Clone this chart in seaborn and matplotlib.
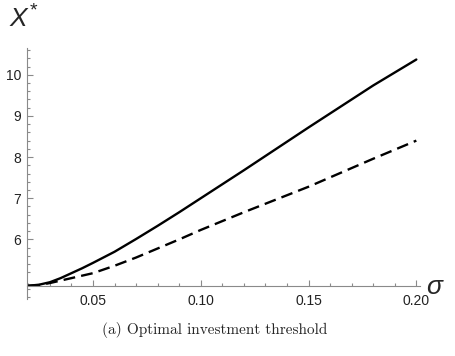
import numpy as np
import pandas as pd
import matplotlib
matplotlib.use("Agg")
import matplotlib.pyplot as plt
import seaborn as sns
from matplotlib.ticker import FixedLocator, FormatStrFormatter

# volatility grid and optimal investment thresholds
sigma = [0.02, 0.025, 0.03, 0.035, 0.04, 0.045, 0.05, 0.06, 0.07, 0.08, 0.09,
         0.10, 0.12, 0.15, 0.18, 0.20]
threshold_solid = [4.874, 4.90, 4.96, 5.06, 5.18, 5.30, 5.43, 5.70, 6.01, 6.33, 6.66,
                   7.00, 7.68, 8.72, 9.74, 10.37]
threshold_dashed = [4.874, 4.89, 4.94, 5.00, 5.06, 5.12, 5.18, 5.36, 5.56, 5.78, 6.00,
                    6.23, 6.66, 7.28, 7.96, 8.40]

x_major = [0.05, 0.10, 0.15, 0.20]
y_major = [6, 7, 8, 9, 10]

sns.set_style("white")
plt.rcParams["mathtext.fontset"] = "custom"
plt.rcParams["mathtext.it"] = "Liberation Sans:italic"
plt.rcParams["mathtext.rm"] = "Liberation Sans"

fig = plt.figure(figsize=(4.56, 3.56), dpi=100)
ax = fig.add_axes([27 / 456, 1 - 298.7 / 356, 393 / 456, (298.7 - 48) / 356])

df_solid = pd.DataFrame({"sigma": sigma, "X": threshold_solid})
df_dashed = pd.DataFrame({"sigma": sigma, "X": threshold_dashed})
sns.lineplot(data=df_solid, x="sigma", y="X", ax=ax, color="black", lw=1.7)
sns.lineplot(data=df_dashed, x="sigma", y="X", ax=ax, color="black", lw=1.7,
             linestyle=(0, (5, 2.6)))

ax.set_xlim(0.0194, 0.2017)
ax.set_ylim(4.56, 10.65)
ax.set_xlabel("")
ax.set_ylabel("")

axis_color = "#8a8a8a"
for side in ("top", "right"):
    ax.spines[side].set_visible(False)
ax.spines["bottom"].set_position(("data", 4.874))
for side in ("left", "bottom"):
    ax.spines[side].set_color(axis_color)
    ax.spines[side].set_linewidth(0.8)

ax.xaxis.set_major_locator(FixedLocator(x_major))
ax.xaxis.set_minor_locator(FixedLocator([v / 100 for v in range(2, 21) if v % 5 != 0]))
ax.xaxis.set_major_formatter(FormatStrFormatter("%.2f"))
ax.yaxis.set_major_locator(FixedLocator(y_major))
ax.yaxis.set_minor_locator(FixedLocator([v / 10 for v in range(46, 107, 2) if v % 10 != 0]))
ax.yaxis.set_major_formatter(FormatStrFormatter("%d"))

ax.tick_params(which="both", direction="in", color=axis_color, width=0.8,
               bottom=True, left=True, top=False, right=False,
               labelsize=10, labelcolor="#222222")
ax.tick_params(which="major", length=4.5)
ax.tick_params(which="minor", length=2.5)
ax.tick_params(axis="x", which="major", pad=6)
ax.tick_params(axis="y", which="major", pad=4)
for lab in ax.get_xticklabels() + ax.get_yticklabels():
    lab.set_family("Liberation Sans")

# axis titles: X* above the vertical axis, sigma at the end of the horizontal axis
fig.text(10 / 456, 1 - 19 / 356, "X", fontsize=19, style="italic",
         family="Liberation Sans", va="center", ha="left")
fig.text(29.5 / 456, 1 - 11 / 356, "*", fontsize=14,
         family="Liberation Sans", va="center", ha="left")
fig.text(426 / 456, 1 - 287 / 356, r"$\sigma$", fontsize=19, va="center", ha="left")
fig.text(215 / 456, 1 - 330 / 356, "(a) Optimal investment threshold",
         fontsize=11, family="cmr10", ha="center", va="center")

fig.savefig("out.png", dpi=100)
